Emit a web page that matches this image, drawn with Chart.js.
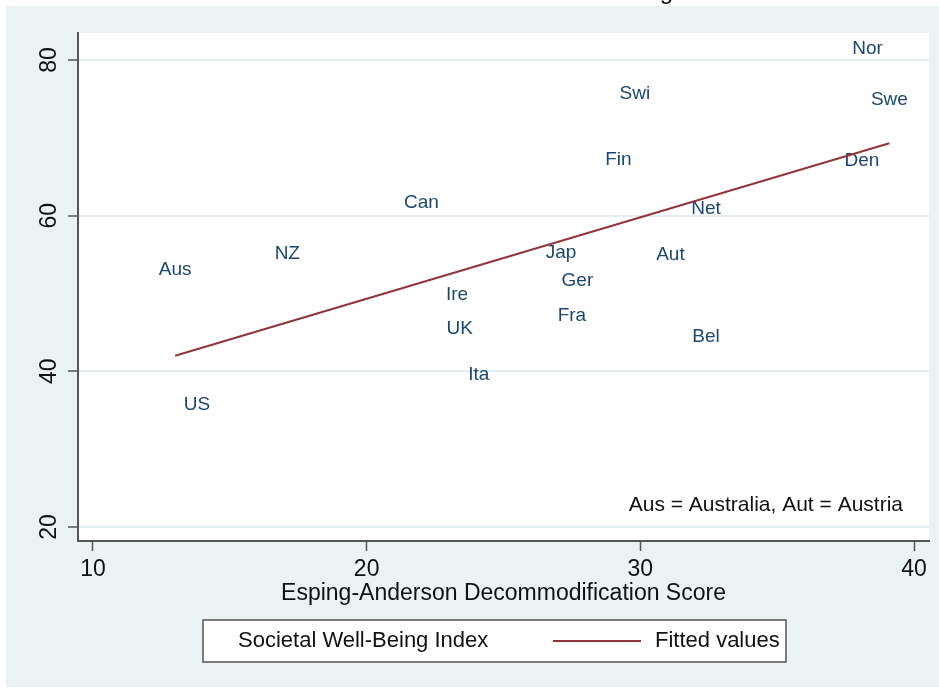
<!DOCTYPE html>
<html>
<head>
<meta charset="utf-8">
<script src="https://cdn.jsdelivr.net/npm/chart.js@4"></script>
<style>
  html, body { margin: 0; padding: 0; background: #fff; }
  #wrap { width: 939px; height: 691px; }
</style>
</head>
<body>
<div id="wrap"><canvas id="chart" width="939" height="691"></canvas></div>
<script>
// country labels, decommodification score (x) and well-being index (y)
const countries = ["Aus", "US", "NZ", "Can", "Ire", "UK", "Ita", "Jap", "Fra", "Ger", "Fin", "Swi", "Aut", "Bel", "Net", "Den", "Nor", "Swe"];
const decomScore = [13.0, 13.8, 17.1, 22.0, 23.3, 23.4, 24.1, 27.1, 27.5, 27.7, 29.2, 29.8, 31.1, 32.4, 32.4, 38.1, 38.3, 39.1];
const wellBeing = [53.1, 35.7, 55.1, 61.6, 49.8, 45.5, 39.5, 55.2, 47.2, 51.6, 67.2, 75.6, 55.0, 44.4, 60.9, 67.1, 81.5, 74.9];

// fitted line end points
const fitX = [13.0, 39.1];
const fitY = [42.0, 69.3];

const xTicks = [10, 20, 30, 40];
const yTicks = [20, 40, 60, 80];

const FONT = "'Liberation Sans', Arial, sans-serif";
const BG = "#eaf2f3";
const NAVY = "#1a476f";
const MAROON = "#90353b";

const bgPlugin = {
  id: "bg",
  beforeDraw(chart) {
    const { ctx, chartArea } = chart;
    ctx.save();
    ctx.fillStyle = "#fff";
    ctx.fillRect(0, 0, chart.width, chart.height);
    ctx.fillStyle = BG;
    ctx.fillRect(6, 6, chart.width - 6, 681);
    ctx.fillStyle = "#fff";
    ctx.fillRect(chartArea.left, chartArea.top, chartArea.right - chartArea.left, chartArea.bottom - chartArea.top);
    // title of the original graph, cut off at the top edge
    ctx.fillStyle = "#000";
    ctx.font = "24px " + FONT;
    ctx.textAlign = "right";
    ctx.textBaseline = "alphabetic";
    ctx.fillText("Decommodification and Societal Well-Being", 673, -1);
    ctx.restore();
  }
};

const labelPlugin = {
  id: "countryLabels",
  afterDatasetDraw(chart, args) {
    if (args.index !== 0) return;
    const { ctx } = chart;
    ctx.save();
    ctx.fillStyle = NAVY;
    ctx.font = "19px " + FONT;
    ctx.textAlign = "center";
    ctx.textBaseline = "middle";
    args.meta.data.forEach((pt, i) => {
      ctx.fillText(countries[i], pt.x, pt.y);
    });
    ctx.restore();
  }
};

const extrasPlugin = {
  id: "extras",
  afterDraw(chart) {
    const { ctx } = chart;
    const yScale = chart.scales.y;
    ctx.save();
    // rotated y tick labels
    ctx.fillStyle = "#111";
    ctx.font = "23px " + FONT;
    ctx.textAlign = "center";
    ctx.textBaseline = "middle";
    yTicks.forEach(v => {
      const y = yScale.getPixelForValue(v);
      ctx.save();
      ctx.translate(50, y);
      ctx.rotate(-Math.PI / 2);
      ctx.fillText(String(v), 0, 0);
      ctx.restore();
    });

    // note inside the plot
    ctx.font = "21px " + FONT;
    ctx.textAlign = "right";
    ctx.fillText("Aus = Australia, Aut = Austria", 903, 505);

    // legend box
    ctx.fillStyle = "#fff";
    ctx.fillRect(203, 620, 583, 42);
    ctx.strokeStyle = "#555";
    ctx.lineWidth = 1.5;
    ctx.strokeRect(203, 620, 583, 42);
    ctx.fillStyle = "#111";
    ctx.font = "22px " + FONT;
    ctx.textAlign = "left";
    ctx.fillText(chart.data.datasets[0].label, 238, 641);
    ctx.strokeStyle = MAROON;
    ctx.lineWidth = 2;
    ctx.beginPath();
    ctx.moveTo(553, 641);
    ctx.lineTo(641, 641);
    ctx.stroke();
    ctx.fillText(chart.data.datasets[1].label, 655, 641);
    ctx.restore();
  }
};

new Chart(document.getElementById("chart"), {
  type: "scatter",
  data: {
    datasets: [
      {
        label: "Societal Well-Being Index",
        data: decomScore.map((x, i) => ({ x: x, y: wellBeing[i] })),
        pointRadius: 0,
        pointHoverRadius: 0,
        order: 2
      },
      {
        label: "Fitted values",
        type: "line",
        data: fitX.map((x, i) => ({ x: x, y: fitY[i] })),
        borderColor: MAROON,
        borderWidth: 2,
        pointRadius: 0,
        fill: false,
        order: 1
      }
    ]
  },
  options: {
    responsive: false,
    animation: false,
    layout: { padding: { left: 0, right: 10, top: 33, bottom: 84 } },
    plugins: {
      legend: { display: false },
      tooltip: { enabled: false }
    },
    scales: {
      x: {
        type: "linear",
        min: 9.452,
        max: 40.548,
        afterBuildTicks: s => { s.ticks = xTicks.map(v => ({ value: v })); },
        afterFit: s => { s.height = 66; },
        grid: { drawOnChartArea: false, tickLength: 10, tickColor: "#555", tickWidth: 1.5 },
        border: { color: "#555", width: 2 },
        ticks: { font: { family: FONT, size: 23 }, color: "#111", padding: 5, maxRotation: 0 },
        title: {
          display: true,
          text: "Esping-Anderson Decommodification Score",
          font: { family: FONT, size: 23 },
          color: "#111",
          padding: { top: 0, bottom: 0 }
        }
      },
      y: {
        type: "linear",
        min: 18.2,
        max: 83.47,
        afterBuildTicks: s => { s.ticks = yTicks.map(v => ({ value: v })); },
        afterFit: s => { s.width = 78; },
        grid: { color: "#e3edf0", lineWidth: 2, tickLength: 10, tickColor: "#555", tickWidth: 1.5 },
        border: { color: "#555", width: 2 },
        ticks: { display: false }
      }
    }
  },
  plugins: [bgPlugin, labelPlugin, extrasPlugin]
});
</script>
</body>
</html>
